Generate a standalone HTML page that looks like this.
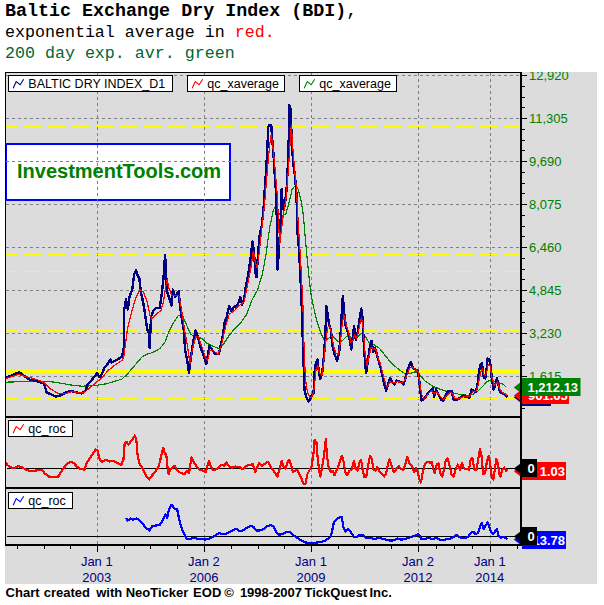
<!DOCTYPE html>
<html><head><meta charset="utf-8"><title>Baltic Exchange Dry Index (BDI)</title>
<style>
html,body{margin:0;padding:0;background:#fff;}
body{width:604px;height:605px;position:relative;overflow:hidden;}
.t{position:absolute;left:5px;white-space:pre;font-family:"Liberation Mono","Courier New",monospace;line-height:20px;}
.t1{top:1.7px;font-size:18.35px;font-weight:bold;color:#000;}
.t2{top:23px;font-size:16.65px;color:#000;}
.t3{top:43.5px;font-size:16.65px;color:#006633;}
</style></head><body>
<div class="t t1">Baltic Exchange Dry Index (BDI)<span style="font-weight:normal">,</span></div>
<div class="t t2">exponential average in <span style="color:#ff0000">red.</span></div>
<div class="t t3">200 day exp. avr. green</div>
<svg width="604" height="605" viewBox="0 0 604 605" style="position:absolute;left:0;top:0" font-family="'Liberation Sans',Arial,sans-serif">
<rect x="5" y="72" width="592" height="512" fill="#dcdcdc"/>
<defs><clipPath id="cp"><rect x="6" y="73" width="514" height="472"/></clipPath><clipPath id="cg"><rect x="5" y="72" width="592" height="512"/></clipPath></defs>
<rect x="6" y="144" width="224" height="56" fill="#fff" stroke="#0000ff" stroke-width="2"/>
<text x="17" y="178.4" font-size="20" font-weight="bold" fill="#008000">InvestmentTools.com</text>
<g clip-path="url(#cp)" shape-rendering="crispEdges">
<line x1="6" x2="520" y1="75.5" y2="75.5" stroke="#808080" stroke-width="1" stroke-dasharray="3 3"/>
<line x1="6" x2="520" y1="118.5" y2="118.5" stroke="#808080" stroke-width="1" stroke-dasharray="3 3"/>
<line x1="6" x2="520" y1="161.5" y2="161.5" stroke="#808080" stroke-width="1" stroke-dasharray="3 3"/>
<line x1="6" x2="520" y1="204.5" y2="204.5" stroke="#808080" stroke-width="1" stroke-dasharray="3 3"/>
<line x1="6" x2="520" y1="247.5" y2="247.5" stroke="#808080" stroke-width="1" stroke-dasharray="3 3"/>
<line x1="6" x2="520" y1="290.5" y2="290.5" stroke="#808080" stroke-width="1" stroke-dasharray="3 3"/>
<line x1="6" x2="520" y1="333.5" y2="333.5" stroke="#808080" stroke-width="1" stroke-dasharray="3 3"/>
<line x1="6" x2="520" y1="376.5" y2="376.5" stroke="#808080" stroke-width="1" stroke-dasharray="3 3"/>
<line x1="97.5" x2="97.5" y1="73" y2="545" stroke="#808080" stroke-width="1" stroke-dasharray="3 3"/>
<line x1="204.5" x2="204.5" y1="73" y2="545" stroke="#808080" stroke-width="1" stroke-dasharray="3 3"/>
<line x1="311.5" x2="311.5" y1="73" y2="545" stroke="#808080" stroke-width="1" stroke-dasharray="3 3"/>
<line x1="418.5" x2="418.5" y1="73" y2="545" stroke="#808080" stroke-width="1" stroke-dasharray="3 3"/>
<line x1="490.5" x2="490.5" y1="73" y2="545" stroke="#808080" stroke-width="1" stroke-dasharray="3 3"/>
<line x1="0" x2="520" y1="126.5" y2="126.5" stroke="#ffff00" stroke-width="1" stroke-dasharray="18 6"/>
<line x1="0" x2="520" y1="254.5" y2="254.5" stroke="#ffff00" stroke-width="1" stroke-dasharray="18 6"/>
<line x1="0" x2="520" y1="271.5" y2="271.5" stroke="#ffff00" stroke-width="1" stroke-dasharray="18 6"/>
<line x1="0" x2="520" y1="330.5" y2="330.5" stroke="#ffff00" stroke-width="1" stroke-dasharray="18 6"/>
<line x1="0" x2="520" y1="349.5" y2="349.5" stroke="#ffff00" stroke-width="1" stroke-dasharray="18 6"/>
<line x1="0" x2="520" y1="398.5" y2="398.5" stroke="#ffff00" stroke-width="1" stroke-dasharray="18 6"/>
<rect x="6" y="370" width="514" height="3" fill="#ffff00"/>
</g>
<g clip-path="url(#cp)" fill="none" stroke-linejoin="round" shape-rendering="crispEdges">
<polyline points="5.5,382.2 19.9,381.7 34.8,381.0 47.2,381.2 59.6,383.0 72.0,385.2 82.0,386.2 94.4,385.7 106.8,383.7 121.7,379.2 127.4,374.0 134.8,365.3 142.3,356.6 147.2,354.2 153.5,352.2 159.7,348.7 164.6,343.0 168.4,333.0 173.3,323.1 178.3,315.7 182.0,314.4 185.7,323.1 190.7,334.3 195.7,336.8 201.9,338.5 206.8,343.0 213.1,346.2 219.3,348.7 224.2,343.0 229.2,335.5 234.2,329.3 240.4,323.1 246.6,314.4 252.3,299.3 257.3,290.6 262.3,274.5 266.0,254.6 269.7,227.3 273.4,209.9 275.9,206.2 279.2,213.7 282.1,216.1 285.9,213.7 289.1,202.5 292.1,189.3 295.3,185.6 298.3,189.3 300.8,199.2 303.3,214.9 305.2,237.2 307.5,262.1 309.5,281.9 311.4,296.8 313.6,307.3 317.3,322.2 321.0,333.4 324.8,340.8 328.5,338.4 332.2,335.9 335.9,339.6 339.7,342.6 343.4,339.6 347.1,335.9 352.1,337.6 357.0,337.1 362.0,333.4 365.7,337.1 369.5,343.3 374.4,345.1 379.4,348.3 384.4,354.5 389.3,360.7 394.3,365.7 399.3,369.9 404.2,373.1 409.2,373.9 414.2,371.9 417.9,371.9 421.6,377.3 425.3,381.3 429.1,383.8 433.6,386.5 439.8,389.0 447.2,391.5 454.7,393.2 462.1,395.0 468.4,395.2 473.3,394.0 478.3,390.8 483.2,385.8 487.0,381.6 490.7,380.3 494.4,381.2 498.1,382.6 501.9,383.6 504.0,385.0 506.5,387.4" stroke="#008000" stroke-width="1.2"/>
<polyline points="5.5,377.3 10.0,376.3 15.0,373.8 19.4,372.3 22.3,374.3 26.0,377.3 29.8,379.8 34.8,380.5 39.7,382.3 43.7,382.8 45.2,387.7 46.7,392.5 50.4,394.0 55.9,396.6 62.0,394.9 65.8,392.4 70.8,390.9 75.7,392.2 82.0,393.4 85.7,390.4 87.4,384.7 90.6,381.7 93.9,377.3 97.3,373.0 99.3,377.3 101.8,374.3 104.3,368.0 107.3,364.4 110.5,359.4 111.7,362.4 115.5,360.6 121.7,356.9 123.7,349.2 124.2,309.5 126.1,299.5 127.9,309.5 129.4,297.0 132.3,289.6 134.1,274.7 136.1,270.2 137.8,275.9 139.3,278.4 141.0,292.1 143.5,304.5 145.3,315.7 147.2,329.3 149.0,333.0 149.7,347.9 151.0,316.9 153.5,310.7 155.9,308.2 159.7,308.2 161.6,294.6 163.4,279.7 165.1,254.8 166.1,274.7 167.1,292.1 169.6,299.5 171.6,305.7 172.8,289.6 175.1,297.0 177.0,293.3 178.8,290.8 180.0,307.0 182.0,319.4 184.0,331.8 185.0,349.2 187.0,359.1 189.0,372.8 190.7,359.1 193.2,341.7 195.7,330.6 198.2,338.0 200.6,347.9 203.1,354.2 206.3,364.1 208.1,354.2 209.3,345.5 211.8,349.2 215.5,354.2 218.8,354.2 220.5,346.7 223.0,334.3 224.7,321.9 226.7,316.9 229.2,305.7 230.9,310.7 234.2,307.0 237.9,304.5 240.4,297.0 242.1,304.5 244.1,299.5 246.1,284.6 247.8,277.2 249.6,264.8 251.0,254.8 252.5,241.2 254.0,252.3 255.5,273.4 256.5,277.2 258.2,252.3 259.7,235.0 261.8,225.3 263.5,209.2 264.8,189.3 266.5,164.5 267.7,139.7 268.3,127.0 269.0,125.5 271.3,125.5 272.0,136.0 273.5,154.6 274.7,174.4 276.4,196.8 276.9,224.8 277.7,269.5 278.9,249.7 280.2,229.8 281.0,212.4 281.7,189.3 282.9,209.2 284.6,206.7 286.6,189.3 287.9,164.5 288.9,134.7 289.3,105.4 290.8,109.9 291.6,139.7 293.3,164.5 295.1,176.9 296.5,194.3 297.0,214.9 297.5,232.3 299.0,249.7 300.3,274.5 301.5,299.3 302.3,324.2 302.9,342.1 303.7,366.9 304.4,389.3 306.1,396.7 308.6,401.7 311.1,396.7 313.6,393.0 314.3,374.4 315.6,364.4 317.3,359.5 318.6,369.4 320.3,379.3 322.3,371.9 324.3,352.0 325.5,329.7 326.5,306.1 327.7,314.8 329.2,324.7 331.0,329.7 332.2,344.6 334.7,354.5 337.2,360.7 339.2,352.0 340.9,329.7 342.1,307.3 342.9,296.1 344.1,312.3 345.9,327.2 348.4,333.4 350.1,342.1 351.3,349.5 352.8,337.1 354.1,325.9 355.8,339.6 357.5,333.4 359.5,319.7 361.3,308.6 362.5,317.2 363.7,342.1 365.2,364.4 366.2,373.1 367.7,361.9 369.5,349.5 371.4,340.8 373.2,352.0 375.2,348.3 376.9,354.5 378.9,361.9 380.6,366.9 382.6,376.8 384.4,384.3 386.1,390.5 388.1,384.3 390.1,378.1 391.8,381.8 394.3,384.3 396.8,380.6 400.5,381.8 403.7,384.3 405.5,378.1 407.2,370.6 409.2,365.7 410.9,361.9 412.9,368.1 415.4,369.4 417.9,370.6 419.1,379.3 420.4,391.7 421.6,400.4 424.1,399.2 426.6,395.5 429.1,391.7 431.5,389.3 432.8,388.3 434.1,397.0 436.1,389.5 438.6,394.5 441.0,399.5 443.5,400.7 446.0,394.5 447.7,390.8 449.7,392.0 451.7,390.8 453.5,399.5 455.9,400.2 458.4,399.0 460.9,397.0 463.4,395.7 465.9,397.0 469.6,397.5 471.6,389.5 474.1,390.8 475.8,392.0 477.5,384.6 479.0,372.1 480.3,364.7 482.0,363.5 483.7,377.1 485.2,378.4 486.5,369.7 487.7,358.5 489.5,359.7 490.7,365.9 491.9,379.6 493.7,389.5 495.2,384.6 496.9,378.4 498.1,383.3 499.9,392.0 501.9,393.2 504.4,394.0 506.3,395.7 507.3,397.0" stroke="#000080" stroke-width="2.4"/>
<polyline points="5.5,378.8 12.4,376.3 18.6,374.3 24.8,376.3 32.3,378.3 39.7,380.5 44.7,383.0 50.9,389.2 58.4,393.7 64.6,393.7 72.0,391.7 79.5,392.4 84.4,392.4 89.4,388.0 95.6,383.0 101.8,378.0 108.0,370.6 114.2,365.6 121.7,360.6 123.7,357.9 127.4,329.3 132.3,309.5 136.1,297.0 139.8,289.6 143.5,292.1 147.2,302.0 149.7,314.4 151.7,319.4 155.9,314.4 160.9,310.7 163.4,302.0 165.9,285.9 167.1,279.7 169.1,288.4 172.1,295.8 175.8,295.8 179.0,295.8 181.5,309.5 184.5,329.3 187.5,346.7 190.0,364.1 192.4,349.2 195.7,336.8 198.2,336.8 201.9,346.7 205.6,357.9 207.6,360.4 210.1,350.4 213.1,350.4 218.0,354.2 221.7,344.2 225.5,326.8 229.2,314.4 234.2,310.7 239.1,305.7 244.1,302.0 247.8,283.4 251.0,267.2 253.3,251.1 255.3,262.3 257.0,268.0 259.0,254.8 261.0,236.0 264.8,201.7 267.2,171.9 269.7,144.6 271.2,134.7 272.7,144.6 274.7,164.5 277.2,194.3 278.7,224.8 279.7,244.7 281.7,227.3 283.4,214.0 285.9,199.2 288.4,169.4 290.3,139.7 291.3,124.8 292.6,144.6 294.6,169.4 296.5,189.3 298.3,224.8 300.3,254.6 302.0,286.9 302.9,304.8 303.9,342.1 305.4,379.3 307.4,391.7 309.9,397.9 312.3,396.7 314.3,386.8 316.1,369.4 317.8,365.7 319.8,373.1 321.8,375.6 324.0,359.5 326.0,339.6 327.7,327.2 329.7,325.9 331.7,334.6 333.5,345.8 335.9,353.3 338.4,354.5 340.4,342.1 342.1,324.7 343.9,314.8 345.9,323.5 348.4,332.1 350.8,342.1 352.8,340.8 354.6,334.6 356.5,338.4 359.0,328.4 361.5,317.2 363.3,329.7 365.0,352.0 367.0,365.7 369.0,357.0 371.0,347.0 373.2,348.3 375.7,349.5 378.2,358.2 380.6,364.4 383.1,374.4 385.6,384.3 387.3,386.8 389.8,381.8 393.1,383.0 396.8,381.8 401.7,382.3 404.7,380.6 407.2,374.4 409.7,368.1 412.2,366.9 415.4,369.4 417.9,370.6 419.6,381.8 421.6,394.2 424.1,399.2 427.8,394.2 431.1,390.8 434.3,393.2 436.8,392.0 439.8,395.7 443.5,399.5 446.7,395.7 449.7,392.5 452.2,393.2 454.7,398.2 458.4,399.0 463.4,396.5 469.6,396.5 472.6,392.0 475.8,391.5 478.3,384.6 480.3,373.4 482.5,368.4 484.5,375.9 486.5,373.4 488.2,364.7 490.2,365.9 491.9,377.1 493.9,385.8 495.9,383.3 497.6,382.1 499.9,389.5 502.4,392.5 505.6,394.0 507.3,395.7" stroke="#ff0000" stroke-width="1.2"/>
<line x1="7" x2="520" y1="468.5" y2="468.5" stroke="#000" stroke-width="1"/>
<line x1="7" x2="520" y1="536.5" y2="536.5" stroke="#000" stroke-width="1"/>
<polyline points="5.5,462.6 7.4,465.1 11.2,467.6 14.9,467.6 18.6,465.9 22.3,467.6 26.1,469.6 29.8,470.8 34.8,470.8 39.7,469.6 42.2,469.6 44.7,473.3 48.4,476.5 53.4,477.0 58.4,476.5 60.8,472.1 63.3,468.4 67.0,464.1 70.8,461.6 74.0,463.4 77.0,466.6 80.7,469.1 84.4,469.6 86.9,462.1 89.9,458.4 93.1,453.5 95.6,449.2 97.6,451.0 99.3,458.4 101.8,462.1 105.5,459.7 109.3,461.6 113.0,460.9 116.7,462.6 121.2,465.1 123.4,459.7 124.7,443.5 126.6,441.8 128.4,444.8 130.4,441.8 132.8,439.3 134.8,435.6 136.4,441.0 137.6,454.7 139.2,463.4 141.7,466.8 144.2,472.1 146.7,477.0 149.1,479.5 151.9,475.8 154.8,472.1 157.8,468.4 159.8,462.1 161.8,453.5 163.3,448.0 164.8,453.5 166.3,454.7 167.2,464.6 168.5,474.1 170.5,469.6 172.7,467.6 174.7,465.9 176.7,469.6 179.2,472.1 181.6,473.3 184.6,474.1 187.1,470.8 189.1,473.3 190.3,464.6 191.6,457.2 193.3,460.9 195.3,464.6 197.8,467.6 200.3,470.1 203.3,470.8 205.7,472.1 207.5,465.9 209.0,460.9 210.7,465.9 212.7,469.6 215.7,469.6 218.9,467.1 221.9,464.6 224.4,465.9 226.3,462.6 228.8,465.9 231.8,467.6 235.5,466.6 239.3,467.1 243.0,469.1 246.2,465.9 249.2,465.1 252.9,464.1 255.4,472.1 257.1,467.1 259.1,463.4 261.6,465.9 265.3,463.4 267.8,461.6 270.3,465.9 272.4,469.6 275.4,473.3 277.4,476.5 279.4,469.6 281.6,460.9 283.6,467.1 285.6,468.4 287.3,463.4 289.1,459.7 291.0,465.1 293.0,472.1 295.3,470.8 297.2,469.6 299.2,474.1 301.5,478.3 303.5,484.0 305.4,484.0 307.2,474.6 309.7,469.6 311.6,465.9 313.4,454.7 314.6,439.8 316.4,442.3 317.6,457.2 319.1,469.6 320.3,476.5 322.1,467.1 324.1,454.7 325.8,439.3 327.0,455.9 328.8,468.4 330.8,472.1 332.8,470.8 334.5,475.1 337.0,469.6 339.5,462.1 341.9,455.9 343.7,462.1 345.2,471.6 346.9,475.1 349.4,470.8 351.9,469.6 353.9,460.9 355.6,468.4 357.6,470.8 359.3,463.4 361.1,459.7 362.6,469.6 364.3,477.0 366.3,476.5 368.0,465.9 370.0,455.9 371.7,458.4 373.5,469.6 375.5,470.8 377.2,466.6 379.2,470.8 381.7,473.3 384.2,476.5 386.1,473.3 387.9,464.6 389.6,459.2 391.6,466.0 393.6,472.1 396.1,469.6 398.6,465.9 401.0,469.1 403.5,469.6 405.5,463.4 407.4,456.7 409.4,463.4 411.9,465.9 414.1,472.1 416.1,468.4 417.8,472.1 419.3,479.5 421.0,482.5 422.8,472.1 424.8,464.6 427.2,462.1 429.7,462.6 431.7,462.1 433.5,469.6 434.7,473.3 436.7,464.6 438.4,463.4 440.4,473.3 442.1,476.5 444.1,469.6 445.9,459.7 447.6,458.4 449.6,465.9 451.6,474.6 453.8,476.5 455.8,468.4 457.8,464.6 460.0,469.6 462.0,463.4 464.0,468.4 466.5,469.1 469.0,469.6 470.7,459.7 472.4,457.7 474.4,469.6 476.4,469.6 478.2,459.7 479.9,449.0 481.4,454.7 483.1,474.1 485.1,473.3 486.8,462.1 488.6,455.9 490.1,463.4 491.8,477.0 493.3,479.5 494.8,469.6 496.3,459.2 498.0,463.4 499.3,474.6 500.5,477.0 502.2,469.6 504.2,467.6 506.2,470.8 507.2,469.1" stroke="#ff0000" stroke-width="2.2"/>
<polyline points="125.9,518.0 127.9,520.5 130.4,518.5 132.8,519.8 136.1,518.5 139.1,519.8 142.0,523.0 145.3,527.2 149.4,530.4 152.3,526.2 156.1,525.5 159.8,524.7 162.8,520.5 165.3,514.3 167.2,518.0 169.0,509.3 171.0,505.1 172.7,505.6 174.7,509.3 177.2,509.3 179.2,519.3 181.6,528.0 184.1,534.2 186.6,538.6 189.6,539.1 193.3,537.9 197.0,538.6 200.8,538.6 204.5,539.6 208.2,539.1 211.9,537.1 215.7,535.4 218.9,532.9 221.9,534.2 225.6,534.2 229.3,532.2 233.0,530.4 236.3,528.7 239.3,531.2 243.0,530.4 246.7,528.0 250.4,526.2 253.4,526.7 256.1,530.4 260.4,530.4 264.1,528.5 267.4,526.0 270.9,525.0 273.7,526.7 276.1,531.7 278.6,534.7 282.3,534.2 286.1,532.2 289.8,531.7 293.5,535.4 297.2,537.9 301.0,540.4 304.7,542.4 309.7,542.9 314.6,542.9 319.6,542.1 324.1,541.1 327.5,539.1 330.8,536.6 332.5,529.2 334.0,521.7 337.0,519.3 339.5,517.3 341.9,516.8 343.2,526.7 345.7,531.7 348.2,529.2 350.6,531.7 353.9,536.6 356.8,537.1 360.1,534.7 363.1,535.4 366.3,537.9 370.5,537.9 374.2,539.1 378.0,537.9 381.7,538.6 385.4,539.6 389.1,540.4 392.9,540.4 397.4,538.6 401.2,539.6 404.9,539.1 408.6,537.9 412.3,536.6 416.1,535.4 418.6,534.2 421.0,538.6 424.8,539.1 428.5,537.9 432.2,539.1 435.9,537.9 439.7,539.6 443.4,540.4 447.1,539.1 450.8,538.6 454.1,536.6 456.5,534.7 459.0,537.1 462.0,537.9 465.7,537.9 468.2,536.6 470.7,532.9 473.2,531.7 475.7,534.2 478.2,532.9 479.9,526.7 481.9,523.0 483.6,529.2 485.6,525.5 487.6,522.2 489.3,526.7 491.1,531.7 493.1,534.2 494.8,531.7 496.8,529.2 498.5,535.4 500.5,537.9 503.0,536.6 505.5,537.9 507.2,539.1" stroke="#0000ff" stroke-width="2.2"/>
</g>
<g shape-rendering="crispEdges" fill="#000">
<rect x="5" y="72" width="1" height="474"/>
<rect x="5" y="72" width="517" height="1"/>
<rect x="520" y="72" width="2" height="474"/>
<rect x="5" y="416" width="517" height="2"/>
<rect x="5" y="487" width="517" height="2"/>
<rect x="5" y="544" width="517" height="2"/>
<rect x="522" y="75" width="5" height="1"/>
<rect x="522" y="86" width="3" height="1"/>
<rect x="522" y="97" width="3" height="1"/>
<rect x="522" y="107" width="3" height="1"/>
<rect x="522" y="118" width="5" height="1"/>
<rect x="522" y="129" width="3" height="1"/>
<rect x="522" y="140" width="3" height="1"/>
<rect x="522" y="150" width="3" height="1"/>
<rect x="522" y="161" width="5" height="1"/>
<rect x="522" y="172" width="3" height="1"/>
<rect x="522" y="183" width="3" height="1"/>
<rect x="522" y="193" width="3" height="1"/>
<rect x="522" y="204" width="5" height="1"/>
<rect x="522" y="215" width="3" height="1"/>
<rect x="522" y="226" width="3" height="1"/>
<rect x="522" y="236" width="3" height="1"/>
<rect x="522" y="247" width="5" height="1"/>
<rect x="522" y="258" width="3" height="1"/>
<rect x="522" y="269" width="3" height="1"/>
<rect x="522" y="279" width="3" height="1"/>
<rect x="522" y="290" width="5" height="1"/>
<rect x="522" y="301" width="3" height="1"/>
<rect x="522" y="312" width="3" height="1"/>
<rect x="522" y="322" width="3" height="1"/>
<rect x="522" y="333" width="5" height="1"/>
<rect x="522" y="344" width="3" height="1"/>
<rect x="522" y="355" width="3" height="1"/>
<rect x="522" y="365" width="3" height="1"/>
<rect x="522" y="376" width="5" height="1"/>
<rect x="522" y="387" width="3" height="1"/>
<rect x="522" y="398" width="3" height="1"/>
<rect x="522" y="408" width="3" height="1"/>
<rect x="17" y="546" width="1" height="3"/>
<rect x="44" y="546" width="1" height="3"/>
<rect x="70" y="546" width="1" height="3"/>
<rect x="97" y="546" width="1" height="3"/>
<rect x="124" y="546" width="1" height="3"/>
<rect x="150" y="546" width="1" height="3"/>
<rect x="177" y="546" width="1" height="3"/>
<rect x="204" y="546" width="1" height="3"/>
<rect x="231" y="546" width="1" height="3"/>
<rect x="258" y="546" width="1" height="3"/>
<rect x="284" y="546" width="1" height="3"/>
<rect x="311" y="546" width="1" height="3"/>
<rect x="338" y="546" width="1" height="3"/>
<rect x="364" y="546" width="1" height="3"/>
<rect x="391" y="546" width="1" height="3"/>
<rect x="418" y="546" width="1" height="3"/>
<rect x="436" y="546" width="1" height="3"/>
<rect x="454" y="546" width="1" height="3"/>
<rect x="472" y="546" width="1" height="3"/>
<rect x="517" y="546" width="1" height="3"/>
<rect x="97" y="546" width="1" height="6"/>
<rect x="204" y="546" width="1" height="6"/>
<rect x="311" y="546" width="1" height="6"/>
<rect x="418" y="546" width="1" height="6"/>
<rect x="490" y="546" width="1" height="6"/>
</g>
<rect x="8.5" y="75.5" width="164" height="16" fill="#fff" stroke="#000" stroke-width="1"/>
<polyline points="13.2,88.2 16.2,81.6 20.2,84.7 23.7,79.3" fill="none" stroke="#000080" stroke-width="1.1"/>
<text x="28.3" y="88" font-size="12.5" fill="#000">BALTIC DRY INDEX_D1</text>
<rect x="187.5" y="75.5" width="97" height="16" fill="#fff" stroke="#000" stroke-width="1"/>
<polyline points="192.2,88.2 195.2,81.6 199.2,84.7 202.7,79.3" fill="none" stroke="#ff0000" stroke-width="1.1"/>
<text x="207.3" y="88" font-size="12.5" fill="#000">qc_xaverage</text>
<rect x="299.5" y="75.5" width="97" height="16" fill="#fff" stroke="#000" stroke-width="1"/>
<polyline points="304.2,88.2 307.2,81.6 311.2,84.7 314.7,79.3" fill="none" stroke="#008000" stroke-width="1.1"/>
<text x="319.3" y="88" font-size="12.5" fill="#000">qc_xaverage</text>
<rect x="8.5" y="420.5" width="64" height="16" fill="#fff" stroke="#000" stroke-width="1"/>
<polyline points="13.2,433.2 16.2,426.6 20.2,429.7 23.7,424.3" fill="none" stroke="#ff0000" stroke-width="1.1"/>
<text x="28.3" y="433" font-size="12.5" fill="#000">qc_roc</text>
<rect x="8.5" y="492.5" width="64" height="16" fill="#fff" stroke="#000" stroke-width="1"/>
<polyline points="13.2,505.2 16.2,498.6 20.2,501.7 23.7,496.3" fill="none" stroke="#0000ff" stroke-width="1.1"/>
<text x="28.3" y="505" font-size="12.5" fill="#000">qc_roc</text>
<g clip-path="url(#cg)" font-size="13" fill="#008000">
<text x="529" y="80.2">12,920</text>
<text x="529" y="123.2">11,305</text>
<text x="529" y="166.2">9,690</text>
<text x="529" y="209.2">8,075</text>
<text x="529" y="252.2">6,460</text>
<text x="529" y="295.2">4,845</text>
<text x="529" y="338.2">3,230</text>
<text x="529" y="381.2">1,615</text>
</g>
<g font-size="13" font-weight="bold" fill="#fff">
<polygon points="513.8,397.3 520.5,392.1 520.5,402.5" fill="#000080"/>
<rect x="522" y="388" width="29" height="18" fill="#000080"/>
<polygon points="513.8,395.5 520.5,390.3 520.5,400.7" fill="#ff0000"/>
<rect x="522" y="386" width="47" height="18" fill="#ff0000"/>
<text x="528" y="400.4">961.65</text>
<polygon points="513.8,387.5 520.5,382.3 520.5,392.7" fill="#008000"/>
<rect x="522" y="378" width="58.5" height="18" fill="#008000"/>
<text x="527.5" y="392">1,212.13</text>
<polygon points="513.8,471.3 520.5,466.1 520.5,476.5" fill="#ff0000"/>
<rect x="522" y="462" width="44" height="18" fill="#ff0000"/>
<text x="539.7" y="476">1.03</text>
<polygon points="513.8,468.6 520.5,463.40000000000003 520.5,473.8" fill="#000"/>
<rect x="522" y="459" width="15" height="18" fill="#000"/>
<text x="527.5" y="472.8">0</text>
<polygon points="513.8,539.6 520.5,534.4 520.5,544.8000000000001" fill="#0000ff"/>
<rect x="522" y="531" width="44" height="18" fill="#0000ff"/>
<text x="532.5" y="545">13.78</text>
<polygon points="513.8,536.6 520.5,531.4 520.5,541.8000000000001" fill="#000"/>
<rect x="522" y="527" width="15" height="18" fill="#000"/>
<text x="527.5" y="540.8">0</text>
</g>
<rect x="520" y="72" width="2" height="474" fill="#000" shape-rendering="crispEdges"/>
<g font-size="13" fill="#000080" text-anchor="middle">
<text x="96.8" y="566">Jan 1</text><text x="96.8" y="581.5">2003</text>
<text x="203.9" y="566">Jan 2</text><text x="203.9" y="581.5">2006</text>
<text x="311.0" y="566">Jan 1</text><text x="311.0" y="581.5">2009</text>
<text x="418.0" y="566">Jan 2</text><text x="418.0" y="581.5">2012</text>
<text x="489.8" y="566">Jan 1</text><text x="489.8" y="581.5">2014</text>
</g>
<text y="597" font-size="13" font-weight="bold" fill="#000" xml:space="preserve"><tspan x="5.6">Chart </tspan><tspan x="43.7">created </tspan><tspan x="96.2">with </tspan><tspan x="125.7">NeoTicker </tspan><tspan x="193.1">EOD </tspan><tspan x="224.2">© </tspan><tspan x="239.9">1998-2007 </tspan><tspan x="304.5">TickQuest </tspan><tspan x="369.4">Inc.</tspan></text>
</svg>
</body></html>
